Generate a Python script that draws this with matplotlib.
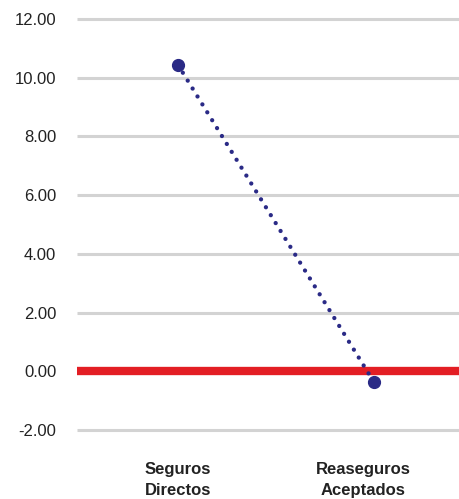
import matplotlib
matplotlib.use("Agg")
import matplotlib.pyplot as plt
import matplotlib.transforms as mtransforms

categories = ["Seguros\nDirectos", "Reaseguros\nAceptados"]
values = [10.44, -0.37]
yticks = [-2, 0, 2, 4, 6, 8, 10, 12]
ytick_labels = ["-2.00", "0.00", "2.00", "4.00", "6.00", "8.00", "10.00", "12.00"]

plt.rcParams['font.family'] = ['Liberation Sans', 'DejaVu Sans']

W, H = 459, 499
fig = plt.figure(figsize=(W / 100, H / 100), dpi=100)
left, right, top, bottom = 77, 459, 19, 430
ax = fig.add_axes([left / W, 1 - bottom / H, (right - left) / W, (bottom - top) / H])

ax.set_xlim(-0.515, 1.434)
ax.set_ylim(-2, 12)

for y in yticks:
    if y == 0:
        continue
    ax.axhline(y, color='#d3d3d3', lw=2.2, zorder=1, clip_on=False,
               solid_capstyle='butt')
ax.axhline(0, color='#e31e24', lw=6, zorder=2, clip_on=False,
           solid_capstyle='butt')

x = list(range(len(categories)))
ax.plot(x, values, color='#2a2a86', lw=3.1, linestyle=(0, (0.01, 2.15)),
        dash_capstyle='round', zorder=3)
ax.plot(x, values, 'o', color='#2a2a86', markersize=8.5, zorder=4)

ax.set_yticks(yticks)
ax.set_yticklabels(ytick_labels, fontsize=12, color='#222222')
ax.set_xticks(x)
ax.set_xticklabels(categories, fontsize=12, fontweight='bold', color='#222222',
                   linespacing=1.5)
ax.tick_params(axis='y', length=0, pad=15)
ax.tick_params(axis='x', length=0, pad=23)
# second category label sits slightly left of its point in the reference
lbl = ax.get_xticklabels()[1]
lbl.set_transform(lbl.get_transform() +
                  mtransforms.ScaledTranslation(-11 / 100, 0, fig.dpi_scale_trans))

for s in ax.spines.values():
    s.set_visible(False)

fig.savefig("out.png", dpi=100)
